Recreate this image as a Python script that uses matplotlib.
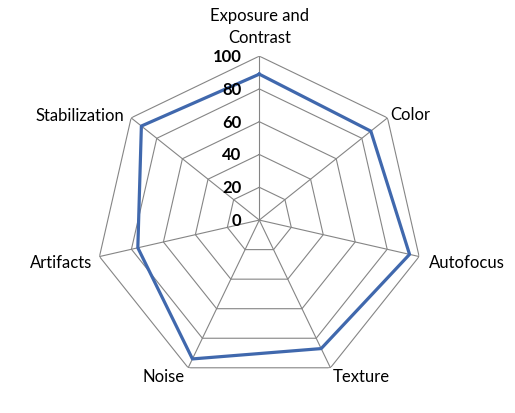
import numpy as np
import matplotlib
matplotlib.use('Agg')
import matplotlib.pyplot as plt

categories = ['Exposure and\nContrast', 'Color', 'Autofocus', 'Texture', 'Noise', 'Artifacts', 'Stabilization']
values = [89, 87, 94, 87, 94, 76, 92]
rticks = [0, 20, 40, 60, 80, 100]

# label placement: (offset px x, offset px y, ha, va)
label_pos = [(0, 11, 'center', 'bottom'),
             (3, 4, 'left', 'center'),
             (10, -5, 'left', 'center'),
             (2, -8, 'left', 'center'),
             (-4, -8, 'right', 'center'),
             (-7, -5, 'right', 'center'),
             (-7, 3, 'right', 'center')]

plt.rcParams['font.family'] = ['Lato', 'DejaVu Sans']

n = len(categories)
angles = [2 * np.pi * i / n for i in range(n)]

fig = plt.figure(figsize=(5.15, 4.14), dpi=100)
ax = fig.add_axes([0.185, 0.070, 0.637, 0.792], projection='polar')
ax.set_theta_offset(np.pi / 2)
ax.set_theta_direction(-1)
ax.set_ylim(0, 100)
ax.grid(False)
ax.spines['polar'].set_visible(False)
ax.set_xticks([])
ax.set_yticks([])

# polygon grid
ring_angles = angles + [angles[0]]
for r in rticks[1:]:
    ax.plot(ring_angles, [r] * len(ring_angles), color='#858585', lw=0.8, zorder=1)
for a in angles:
    ax.plot([a, a], [0, 100], color='#858585', lw=0.8, zorder=1)

# series
ax.plot(ring_angles, values + [values[0]], color='#4068ad', lw=2.3, zorder=3)

px = 72 / 100
for a, lab, (dx, dy, ha, va) in zip(angles, categories, label_pos):
    ax.annotate(lab, xy=(a, 100), xytext=(dx * px, dy * px), textcoords='offset points',
                ha=ha, va=va, fontsize=12, linespacing=1.45, annotation_clip=False)

for r in rticks:
    ax.annotate(str(r), xy=(0, r), xytext=(-13, 0), textcoords='offset points',
                ha='right', va='center', fontsize=12, fontweight='bold', annotation_clip=False)

fig.savefig('out.png', dpi=100)
